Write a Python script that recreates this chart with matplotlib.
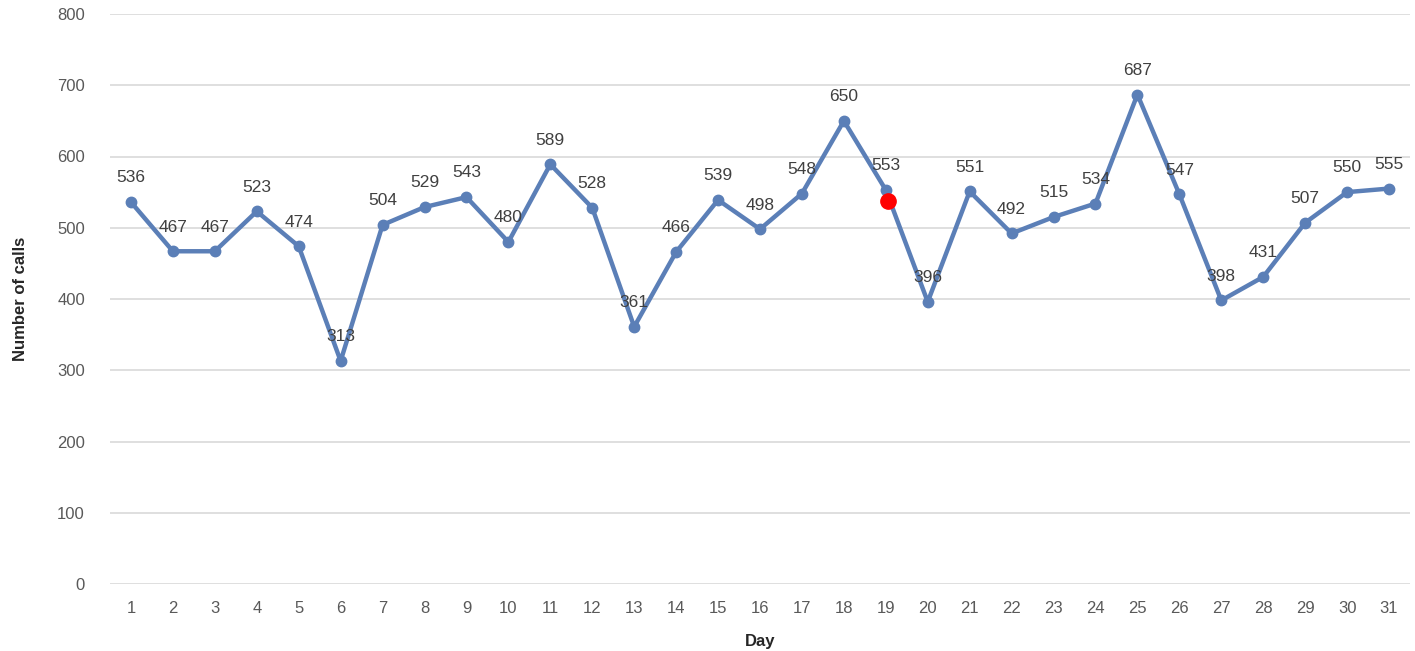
import numpy as np
import matplotlib.pyplot as plt

plt.rcParams['font.family'] = ['Liberation Sans', 'DejaVu Sans']

# Calls per day
days = list(range(1, 32))
calls = [536, 467, 467, 523, 474, 313, 504, 529, 543, 480,
         589, 528, 361, 466, 539, 498, 548, 650, 553, 396,
         551, 492, 515, 534, 687, 547, 398, 431, 507, 550, 555]

# red highlighted point
hl_day = 19.05
hl_value = 538

yticks = [0, 100, 200, 300, 400, 500, 600, 700, 800]

fig = plt.figure(figsize=(14.15, 6.51), dpi=100)
ax = fig.add_axes([110 / 1415, 1 - 584 / 651, 1300 / 1415, 570 / 651])

ax.plot(days, calls, color='#5B7FB7', linewidth=3.2, marker='o',
        markersize=7.5, zorder=3)
for d, v in zip(days, calls):
    ax.annotate(str(v), (d, v), xytext=(0, 12), textcoords='offset points',
                ha='center', va='bottom', fontsize=12.5, color='#404040', zorder=4)

ax.plot([hl_day], [hl_value], 'o', color='#FF0000', markersize=11, zorder=5)

ax.set_xlim(0.5, 31.5)
ax.set_ylim(0, 800)
ax.set_xticks(days)
ax.set_yticks(yticks)
ax.tick_params(axis='both', length=0, labelsize=12, labelcolor='#595959')
ax.tick_params(axis='x', pad=12)
ax.tick_params(axis='y', pad=18)
ax.grid(axis='y', color='#D9D9D9', linewidth=1.2)
ax.set_axisbelow(True)
for s in ax.spines.values():
    s.set_visible(False)

ax.set_xlabel('Day', fontsize=12, fontweight='bold', color='#262626', labelpad=13)
ax.set_ylabel('Number of calls', fontsize=12, fontweight='bold', color='#262626', labelpad=21)

fig.savefig('out.png', dpi=100)
